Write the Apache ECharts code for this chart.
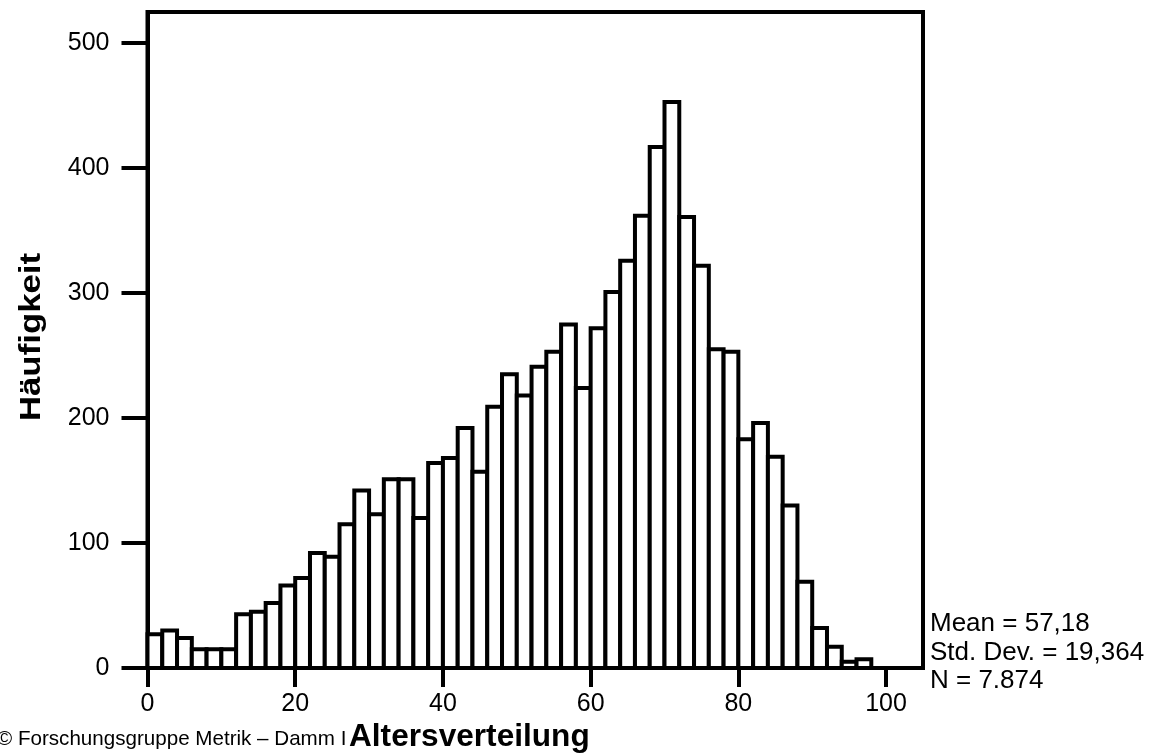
<!DOCTYPE html>
<html>
<head>
<meta charset="utf-8">
<script src="https://cdn.jsdelivr.net/npm/echarts@6/dist/echarts.min.js"></script>
<style>
html,body{margin:0;padding:0;background:#fff;}
#chart{width:1169px;height:756px;}
</style>
</head>
<body>
<div id="chart"></div>
<script>
// Histogram bins (age, width 2)
var binStarts = [0,2,4,6,8,10,12,14,16,18,20,22,24,26,28,30,32,34,36,38,40,42,44,46,48,50,52,54,56,58,60,62,64,66,68,70,72,74,76,78,80,82,84,86,88,90,92,94,96];
var binWidth = 2;
var counts = [27,30,24,15,15,15,43,45,52,66,72,92,89,115,142,123,151,151,120,164,168,192,157,209,235,218,241,253,275,224,272,301,326,362,417,453,361,322,255,253,183,196,169,130,69,32,17,5,7];
var xTicks = [0,20,40,60,80,100];
var yTicks = [0,100,200,300,400,500];
var statLines = ['Mean = 57,18', 'Std. Dev. = 19,364', 'N = 7.874'];
var yTitle = 'Häufigkeit';
var xTitle = 'Altersverteilung';
var credit = '\u00A9 Forschungsgruppe Metrik \u2013 Damm I';

var FONT = "'Liberation Sans', Arial, Helvetica, sans-serif";
var data = binStarts.map(function (s, i) { return [s, s + binWidth, counts[i]]; });

var chart = echarts.init(document.getElementById('chart'));
var graphics = [
  { type: 'text', x: 32, y: 337, rotation: Math.PI / 2, scaleX: 1.2,
    style: { text: yTitle, font: 'bold 29px ' + FONT, fill: '#000', align: 'center', verticalAlign: 'middle', textAlign: 'center', textVerticalAlign: 'middle' } },
  { type: 'text', x: 349, y: 737, scaleX: 1.02,
    style: { text: xTitle, font: 'bold 31px ' + FONT, fill: '#000', align: 'left', verticalAlign: 'middle', textAlign: 'left', textVerticalAlign: 'middle' } },
  { type: 'text', x: -3, y: 739,
    style: { text: credit, font: '20.6px ' + FONT, fill: '#000', align: 'left', verticalAlign: 'middle', textAlign: 'left', textVerticalAlign: 'middle' } }
];
var statY = [624, 653, 681];
statLines.forEach(function (t, i) {
  graphics.push({ type: 'text', x: 930, y: statY[i],
    style: { text: t, font: '26px ' + FONT, fill: '#000', align: 'left', verticalAlign: 'middle', textAlign: 'left', textVerticalAlign: 'middle' } });
});

chart.setOption({
  animation: false,
  backgroundColor: '#fff',
  grid: { left: 147.5, right: 246, top: 12, bottom: 88, show: true, borderColor: '#000', borderWidth: 4, backgroundColor: '#fff' },
  xAxis: {
    type: 'value', min: 0, max: 105, interval: 20,
    axisLine: { show: true, lineStyle: { color: '#000', width: 4 } },
    axisTick: { show: true, length: 19, lineStyle: { color: '#000', width: 4 }, customValues: xTicks },
    axisLabel: { show: true, margin: 24, fontSize: 25, fontFamily: FONT, color: '#000', customValues: xTicks },
    splitLine: { show: false }
  },
  yAxis: {
    type: 'value', min: 0, max: 525, interval: 100,
    axisLine: { show: true, lineStyle: { color: '#000', width: 4 } },
    axisTick: { show: true, length: 26, lineStyle: { color: '#000', width: 4 }, customValues: yTicks },
    axisLabel: { show: true, margin: 38, fontSize: 25, fontFamily: FONT, color: '#000', customValues: yTicks },
    splitLine: { show: false }
  },
  series: [{
    type: 'custom',
    data: data,
    encode: { x: [0, 1], y: 2 },
    clip: false,
    renderItem: function (params, api) {
      var p0 = api.coord([api.value(0), api.value(2)]);
      var p1 = api.coord([api.value(1), 0]);
      return {
        type: 'rect',
        shape: { x: p0[0], y: p0[1], width: p1[0] - p0[0], height: p1[1] - p0[1] },
        style: { fill: '#fff', stroke: '#000', lineWidth: 4 }
      };
    }
  }],
  graphic: graphics
});
</script>
</body>
</html>
